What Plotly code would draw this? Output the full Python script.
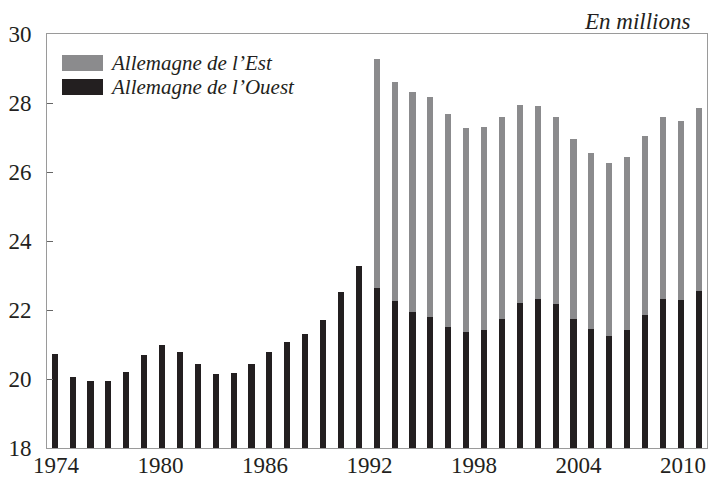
import plotly.graph_objects as go

years = list(range(1974, 2011))
west = [20.72, 20.06, 19.94, 19.95, 20.21, 20.70, 21.00, 20.78, 20.43, 20.15,
        20.18, 20.43, 20.78, 21.06, 21.30, 21.71, 22.53, 23.27,
        22.64, 22.25, 21.93, 21.80, 21.51, 21.35, 21.42, 21.74, 22.20, 22.31,
        22.17, 21.74, 21.45, 21.26, 21.41, 21.86, 22.31, 22.28, 22.54]
east = [None] * 18 + [6.64, 6.37, 6.39, 6.37, 6.16, 5.92, 5.88, 5.85, 5.73, 5.61,
                      5.41, 5.22, 5.11, 4.99, 5.03, 5.17, 5.27, 5.21, 5.32]
x_tick_years = [1974, 1980, 1986, 1992, 1998, 2004, 2010]
y_ticks = [18, 20, 22, 24, 26, 28, 30]
series_names = ["Allemagne de l\u2019Est", "Allemagne de l\u2019Ouest"]
unit_label = "En millions"

GRAY = "#8b8b8d"
BLACK = "#231f20"
FRAME = "#9a9a9a"
FONT = "'Liberation Serif', 'Times New Roman', 'DejaVu Serif', serif"

W, H = 710, 484
# plot area in window pixels
PL, PR, PT, PB = 47, 707, 34, 448
PW, PH = PR - PL, PB - PT


def px(xw):
    return (xw - PL) / PW


def py(yw):
    return (PB - yw) / PH


fig = go.Figure()
fig.add_trace(go.Bar(x=years, y=west, name=series_names[1], marker_color=BLACK,
                     marker_line_width=0, width=0.34, showlegend=False))
fig.add_trace(go.Bar(x=years, y=east, name=series_names[0], marker_color=GRAY,
                     marker_line_width=0, width=0.34, showlegend=False))
# invisible helper trace for the label axis
fig.add_trace(go.Scatter(x=x_tick_years, y=[None] * len(x_tick_years), xaxis="x2",
                         mode="markers", marker_opacity=0, showlegend=False,
                         hoverinfo="skip"))

fig.update_layout(
    width=W, height=H,
    margin=dict(l=PL, r=W - PR, t=PT, b=H - PB, autoexpand=False),
    barmode="stack",
    paper_bgcolor="white", plot_bgcolor="white",
    font=dict(family=FONT, size=23, color="#231f20"),
    xaxis=dict(range=[1973.57, 2010.464], showticklabels=False, ticks="",
               showgrid=False, zeroline=False, showline=True, mirror=True,
               linecolor=FRAME, linewidth=1, automargin=False),
    xaxis2=dict(overlaying="x", anchor="y", side="bottom",
                range=[1973.483, 2011.378], tickmode="array",
                tickvals=x_tick_years, ticktext=[str(v) for v in x_tick_years],
                ticks="", showgrid=False, zeroline=False, showline=False,
                automargin=False, ticklabelstandoff=1,
                tickfont=dict(family=FONT, size=23, color="#231f20")),
    yaxis=dict(range=[18, 30], tickmode="array", tickvals=y_ticks,
               ticks="inside", ticklen=6, tickcolor="#666", showgrid=False,
               zeroline=False, showline=True, mirror=True, linecolor=FRAME,
               linewidth=1, ticklabelstandoff=10, automargin=False,
               tickfont=dict(family=FONT, size=23, color="#231f20")),
)

# custom legend
legend_items = [(series_names[0], GRAY, 55, 71), (series_names[1], BLACK, 79, 95)]
for name, color, y0, y1 in legend_items:
    fig.add_shape(type="rect", xref="paper", yref="paper",
                  x0=px(62), x1=px(103), y0=py(y1), y1=py(y0),
                  fillcolor=color, line_width=0)
    fig.add_annotation(xref="paper", yref="paper", x=px(108),
                       y=py((y0 + y1) / 2), xanchor="left", yanchor="middle",
                       text="<i>" + name + "</i>", showarrow=False,
                       font=dict(family=FONT, size=21, color="#231f20"))

fig.add_annotation(xref="paper", yref="paper", x=px(692), y=py(21),
                   xanchor="right", yanchor="middle", text="<i>" + unit_label + "</i>",
                   showarrow=False, font=dict(family=FONT, size=23, color="#231f20"))

fig.write_html(
    "out.html",
    config={"displayModeBar": False},
    post_script="document.body.style.margin='0';document.body.style.padding='0';"
                "document.body.style.overflow='hidden';"
                "document.documentElement.style.overflow='hidden';",
)
